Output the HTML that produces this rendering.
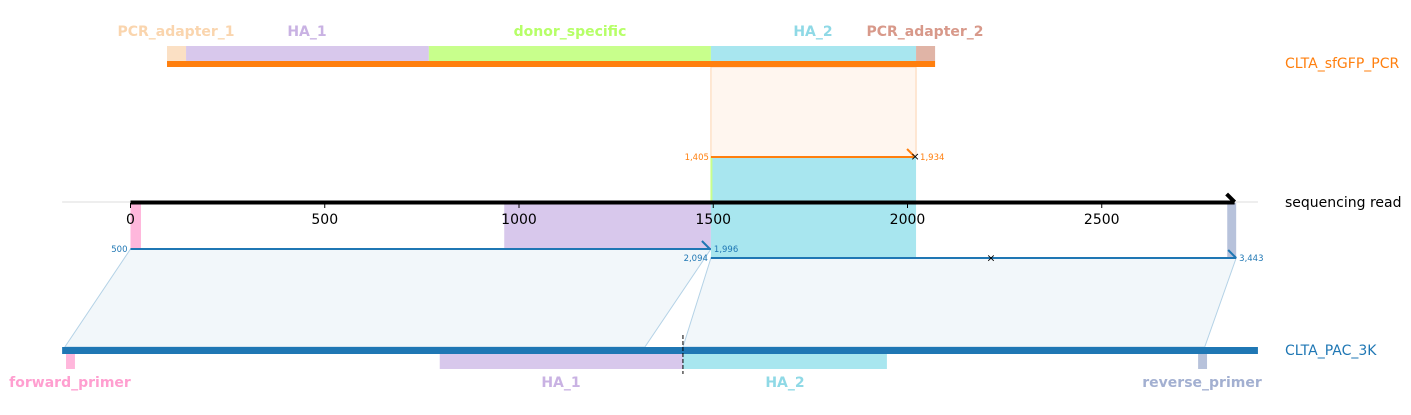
<!DOCTYPE html>
<html><head><meta charset="utf-8">
<style>
html,body{margin:0;padding:0;background:#fff;}
svg{display:block;font-family:"DejaVu Sans","Liberation Sans",sans-serif;}
</style></head>
<body>
<svg id="chart" width="1411" height="415" viewBox="0 0 1411 415" xmlns="http://www.w3.org/2000/svg"></svg>
<script>
// read coordinate axis ticks
const tickValues = [0, 500, 1000, 1500, 2000, 2500];
const readLength = 2842;
const axisMin = -176, axisMax = 2902;
// features on the sequencing read
const readFeatureNames = ['forward_primer', 'HA_1', 'HA_2', 'reverse_primer'];
const readFeatureStarts = [0, 962, 1494, 2823];
const readFeatureEnds = [27, 1494, 2022, 2846];
// top reference CLTA_sfGFP_PCR (in read coords)
const topNames = ['PCR_adapter_1', 'HA_1', 'donor_specific', 'HA_2', 'PCR_adapter_2'];
const topStarts = [94, 143, 768, 1494, 2022];
const topEnds = [143, 768, 1494, 2022, 2071];
// bottom reference CLTA_PAC_3K (in read coords)
const botRange = [-176, 2902];
const botNames = ['forward_primer', 'HA_1', 'HA_2', 'reverse_primer'];
const botStarts = [-166, 796, 1422, 2748];
const botEnds = [-143, 1422, 1947, 2771];
const botCut = 1422;
// alignments
const topAlignRead = [1494, 2022];
const topAlignLabels = ['1,405', '1,934'];
const botAlign1Read = [0, 1494];
const botAlign1Ref = [-169, 1324];
const botAlign1Labels = ['500', '1,996'];
const botAlign2Read = [1494, 2846];
const botAlign2Ref = [1422, 2765];
const botAlign2Labels = ['2,094', '3,443'];
const botAlign2Marker = 2215;

const colors = {forward_primer:'#ffb7dc', HA_1:'#d8c8ec', HA_2:'#a8e6ef', reverse_primer:'#b7c2db',
  PCR_adapter_1:'#fbe0c4', donor_specific:'#c8ff8c', PCR_adapter_2:'#e0b4a6'};
const labelColors = {forward_primer:'#ff9fd0', HA_1:'#c9b2e3', HA_2:'#8fd9e6', reverse_primer:'#a3b0d1',
  PCR_adapter_1:'#fad5ae', donor_specific:'#b6ff68', PCR_adapter_2:'#d8998a'};

const svg = document.getElementById('chart');
const NS = 'http://www.w3.org/2000/svg';
const X = bp => 130.5 + bp * 0.3885;
function mk(tag, attrs, name){
  const e = document.createElementNS(NS, tag);
  for (const k in attrs) e.setAttribute(k, attrs[k]);
  
  
  svg.appendChild(e); return e;
}
function txt(x,y,s,attrs,name){ const t = mk('text', Object.assign({x:x,y:y}, attrs), name); t.textContent = s; return t; }

// parallelograms
mk('polygon', {points:`${X(botAlign1Read[0])},249 ${X(botAlign1Read[1])},249 ${X(botAlign1Ref[1])},347 ${X(botAlign1Ref[0])},347`, fill:'#f2f7fa', stroke:'#b4d2e6', 'stroke-width':1}, 'alignment-1-connector');
mk('polygon', {points:`${X(botAlign2Read[0])},258 ${X(botAlign2Read[1])},258 ${X(botAlign2Ref[1])},347 ${X(botAlign2Ref[0])},347`, fill:'#f2f7fa', stroke:'#b4d2e6', 'stroke-width':1}, 'alignment-2-connector');

// orange highlight region
mk('rect', {x:X(topAlignRead[0]), y:67, width:X(topAlignRead[1])-X(topAlignRead[0]), height:90, fill:'#fff6ef', stroke:'#fcd3b0', 'stroke-width':1}, 'top-alignment-region');

// read features
for (let i=0;i<readFeatureNames.length;i++){
  const n = readFeatureNames[i];
  let y1=203, y2=249;
  if (n==='HA_2'){ y1=157; y2=258; }
  if (n==='reverse_primer'){ y2=258; }
  mk('rect', {x:X(readFeatureStarts[i]), y:y1, width:X(readFeatureEnds[i])-X(readFeatureStarts[i]), height:y2-y1, fill:colors[n]}, 'read-feature-'+n.replace(/_/g,'-'));
}
mk('line', {x1:X(topAlignRead[0])+0.5, y1:157, x2:X(topAlignRead[0])+0.5, y2:203, stroke:'#c8ff8c', 'stroke-width':2}, 'donor-edge');

// axis
mk('line', {x1:X(axisMin), y1:202, x2:X(axisMax), y2:202, stroke:'#dddddd', 'stroke-width':1}, 'axis-baseline');
mk('line', {x1:X(0), y1:202.5, x2:X(readLength), y2:202.5, stroke:'#000', 'stroke-width':4}, 'read-axis');
mk('polyline', {points:`${X(readLength)-8},194 ${X(readLength)},202 `, fill:'none', stroke:'#000', 'stroke-width':4}, 'read-arrowhead');
tickValues.forEach(v=>{
  mk('line', {x1:X(v), y1:203, x2:X(v), y2:208, stroke:'#000', 'stroke-width':1}, 'tick-'+v);
  txt(X(v), 224, String(v), {'text-anchor':'middle', 'font-size':14, fill:'#000'}, 'tick-label-'+v);
});
txt(1285, 207, 'sequencing read', {'font-size':14, fill:'#000'}, 'read-label');

// top reference
for (let i=0;i<topNames.length;i++){
  const n = topNames[i];
  mk('rect', {x:X(topStarts[i]), y:46, width:X(topEnds[i])-X(topStarts[i]), height:15, fill:colors[n]}, 'top-feature-'+n.replace(/_/g,'-'));
}
mk('rect', {x:X(topStarts[0]), y:61, width:X(topEnds[topEnds.length-1])-X(topStarts[0]), height:6, fill:'#ff7f0e'}, 'top-reference-bar');
const topLabelX = [176, 307, 570, 813, 925];
topNames.forEach((n,i)=>{
  txt(topLabelX[i], 36, n, {'text-anchor':'middle','font-size':14,'font-weight':'bold',fill:labelColors[n]}, 'top-label-'+n.replace(/_/g,'-'));
});
txt(1285, 68, 'CLTA_sfGFP_PCR', {'font-size':14, fill:'#ff7f0e'}, 'top-reference-name');

// top alignment line
mk('line', {x1:X(topAlignRead[0]), y1:157, x2:X(topAlignRead[1])-2, y2:157, stroke:'#ff7f0e', 'stroke-width':2}, 'top-alignment-line');
mk('line', {x1:X(topAlignRead[1])-9, y1:149, x2:X(topAlignRead[1])-2, y2:156, stroke:'#ff7f0e', 'stroke-width':2}, 'top-alignment-end-mark');
txt(X(topAlignRead[1])-1, 160, '×', {'text-anchor':'middle','font-size':11,fill:'#000'}, 'top-alignment-x');
txt(X(topAlignRead[0])-2, 160, topAlignLabels[0], {'text-anchor':'end','font-size':8.5,fill:'#ff7f0e'}, 'top-align-start-label');
txt(X(topAlignRead[1])+4, 160, topAlignLabels[1], {'font-size':8.5,fill:'#ff7f0e'}, 'top-align-end-label');

// bottom alignments
mk('line', {x1:X(botAlign1Read[0]), y1:249, x2:X(botAlign1Read[1]), y2:249, stroke:'#1f77b4', 'stroke-width':2}, 'bottom-alignment-1-line');
mk('line', {x1:X(botAlign1Read[1])-9, y1:241, x2:X(botAlign1Read[1])-1, y2:249, stroke:'#1f77b4', 'stroke-width':2}, 'bottom-alignment-1-end-mark');
txt(X(botAlign1Read[0])-3, 252, botAlign1Labels[0], {'text-anchor':'end','font-size':8.5,fill:'#1f77b4'}, 'align1-start-label');
txt(X(botAlign1Read[1])+3, 252, botAlign1Labels[1], {'font-size':8.5,fill:'#1f77b4'}, 'align1-end-label');
mk('line', {x1:X(botAlign2Read[0]), y1:258, x2:X(botAlign2Read[1]), y2:258, stroke:'#1f77b4', 'stroke-width':2}, 'bottom-alignment-2-line');
mk('line', {x1:X(botAlign2Read[1])-8, y1:250, x2:X(botAlign2Read[1]), y2:258, stroke:'#1f77b4', 'stroke-width':2}, 'bottom-alignment-2-end-mark');
txt(X(botAlign2Marker), 261.5, '×', {'text-anchor':'middle','font-size':11,fill:'#000'}, 'align2-x-marker');
txt(X(botAlign2Read[0])-3, 261, botAlign2Labels[0], {'text-anchor':'end','font-size':8.5,fill:'#1f77b4'}, 'align2-start-label');
txt(X(botAlign2Read[1])+3, 261, botAlign2Labels[1], {'font-size':8.5,fill:'#1f77b4'}, 'align2-end-label');

// bottom reference
for (let i=0;i<botNames.length;i++){
  const n = botNames[i];
  mk('rect', {x:X(botStarts[i]), y:354, width:X(botEnds[i])-X(botStarts[i]), height:15, fill:colors[n]}, 'bottom-feature-'+n.replace(/_/g,'-'));
}
mk('rect', {x:X(botRange[0]), y:347, width:X(botRange[1])-X(botRange[0]), height:7, fill:'#1f77b4'}, 'bottom-reference-bar');
mk('line', {x1:X(botCut), y1:335, x2:X(botCut), y2:374, stroke:'#000', 'stroke-width':1, 'stroke-dasharray':'4,2'}, 'cut-site');
const botLabelX = [70, 561, 785, 1202];
botNames.forEach((n,i)=>{
  txt(botLabelX[i], 387, n, {'text-anchor':'middle','font-size':14,'font-weight':'bold',fill:labelColors[n]}, 'bottom-label-'+n.replace(/_/g,'-'));
});
txt(1285, 355, 'CLTA_PAC_3K', {'font-size':14, fill:'#1f77b4'}, 'bottom-reference-name');
</script>
</body></html>
